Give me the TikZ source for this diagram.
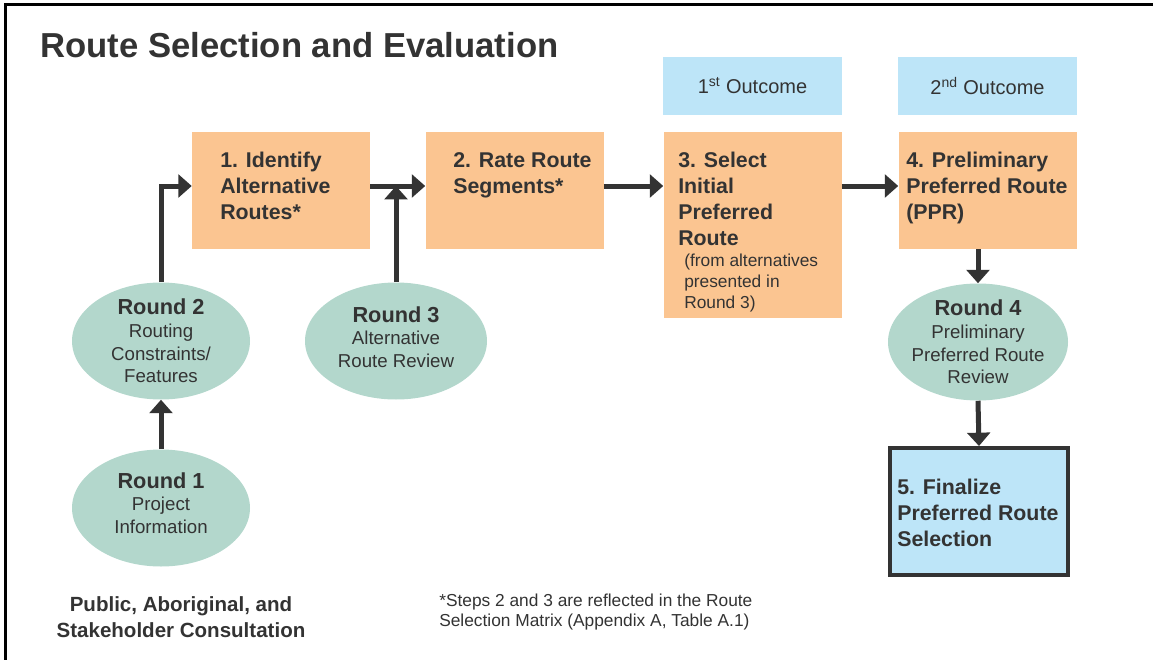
\documentclass[tikz,border=0pt]{standalone}
\usepackage{fontspec}
\setmainfont{Liberation Sans}
\usetikzlibrary{arrows.meta, calc, shapes.geometric}
\definecolor{inkc}{HTML}{333333}
\definecolor{stepc}{HTML}{FBC591}
\definecolor{roundc}{HTML}{B3D7CC}
\definecolor{outc}{HTML}{BDE5F8}
% consultation round: ellipse plus its centred caption (optional lift)
\newcommand{\roundnode}[6][0pt]{%
  \node[roundshape, minimum width=#4] (#2) at #3 {};
  \node[roundtext, yshift=#1] (#2t) at #3 {{\bfseries\fontsize{16.3}{17}\selectfont #5}\\#6};
}

\begin{document}
\begin{tikzpicture}[x=0.75pt, y=-0.75pt,
    flow/.style={-{Triangle[length=10pt, width=17pt]}, inkc, line width=3.75pt},
    stepbox/.style={fill=stepc, minimum width=133.5pt, minimum height=87.75pt,
                    inner sep=0pt},
    steptext/.style={anchor=north west, inner sep=0pt, align=left, text=inkc,
                     font=\bfseries\fontsize{16}{19.5}\selectfont},
    outbox/.style={fill=outc, minimum width=134.25pt, minimum height=43.5pt,
                   inner sep=0pt, text=inkc, font=\fontsize{15}{18}\selectfont},
    roundshape/.style={ellipse, fill=roundc, minimum height=87.75pt, inner sep=0pt},
    roundtext/.style={align=center, text=inkc, font=\fontsize{14}{17}\selectfont}]
  \useasboundingbox (0,0) rectangle (1153,660);
  \draw[black, line width=2.25pt] (5,660) -- (5,5) -- (1153,5);

  \node[anchor=base west, inner sep=0pt, text=inkc,
        font=\bfseries\fontsize{26}{30}\selectfont] (title) at (40,58)
        {Route Selection and Evaluation};

  % outcomes
  \node[outbox] (o1) at (752.5,86) {1\textsuperscript{st} Outcome};
  \node[outbox] (o2) at (987.5,86) {2\textsuperscript{nd} Outcome};

  % steps
  \node[stepbox] (s1) at (281,190.5) {};
  \node[stepbox] (s2) at (514.5,190.5) {};
  \node[stepbox, minimum height=139.5pt] (s3) at (752.5,225) {};
  \node[stepbox] (s4) at (987.5,190.5) {};
  \node[steptext] (s1t) at (220,152) {1. Identify\\Alternative\\Routes*};
  \node[steptext] (s2t) at (453,152) {2. Rate Route\\Segments*};
  \node[steptext] (s3t) at (678,152) {3. Select\\Initial\\Preferred\\Route};
  \node[steptext, font=\fontsize{13}{15.75}\selectfont] (s3n) at (684,254)
        {(from alternatives\\presented in\\Round 3)};
  \node[steptext] (s4t) at (906,152) {4. Preliminary\\Preferred Route\\(PPR)};

  \node[fill=outc, draw=inkc, line width=3pt, minimum width=133.5pt,
        minimum height=95.25pt, inner sep=0pt] (s5) at (979,511.5) {};
  \node[steptext] (s5t) at (897,479) {5. Finalize\\Preferred Route\\Selection};

  % consultation rounds
  \roundnode[3.75pt]{r1}{(161,508)}{133.5pt}{Round 1}{Project\\Information}
  \roundnode{r2}{(161,341)}{133.5pt}{Round 2}{Routing\\Constraints/\\Features}
  \roundnode[3pt]{r3}{(396,341)}{136.5pt}{Round 3}{Alternative\\Route Review}
  \roundnode{r4}{(978,342)}{135pt}{Round 4}{Preliminary\\Preferred Route\\Review}

  % main line of arrows
  \coordinate (row) at (0,186);
  \draw[flow] (r1.north) -- (r2.south);
  \draw[flow] (r2.north) |- (s1.west |- row);
  \draw[flow] (s1.east |- row) -- (s2.west |- row);
  \draw[flow] (r3.north) -- (r3.north |- row);
  \draw[flow] (s2.east |- row) -- (s3.west |- row);
  \draw[flow] (s3.east |- row) -- (s4.west |- row);
  \draw[flow] (r4.north |- s4.south) -- (r4.north);
  \draw[flow] (r4.south) -- (s5.north);

  \node[align=center, text=inkc, font=\bfseries\fontsize{15.4}{19.5}\selectfont]
        (public) at (181,617) {Public, Aboriginal, and\\Stakeholder Consultation};
  \node[anchor=north west, inner sep=0pt, align=left, text=inkc,
        font=\fontsize{13}{15}\selectfont] (note) at (439,594)
        {*Steps 2 and 3 are reflected in the Route\\Selection Matrix (Appendix A, Table A.1)};
\end{tikzpicture}
\end{document}
